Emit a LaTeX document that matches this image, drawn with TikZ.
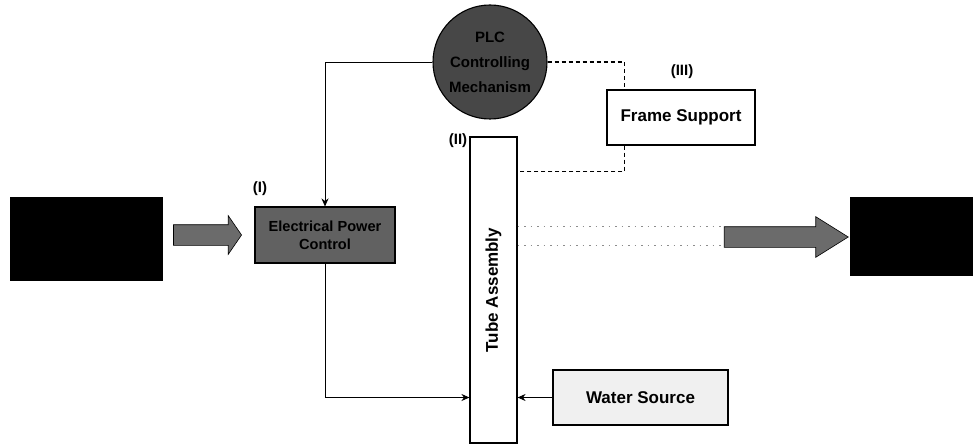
\documentclass[tikz,border=0pt]{standalone}
\usepackage{fontspec}
\setmainfont{Liberation Sans}
\usetikzlibrary{shapes.geometric, shapes.arrows, arrows.meta, positioning}

\begin{document}
\begin{tikzpicture}[
  x=1pt, y=-1pt,
  box/.style={rectangle, draw, line width=1.1pt, inner sep=2pt, align=center, font=\fontsize{17}{20}\selectfont\bfseries},
  blackbox/.style={rectangle, fill=black, draw=black},
  darkbox/.style={box, fill=black!62, font=\fontsize{14.6}{18}\selectfont\bfseries},
  lightbox/.style={box, fill=black!6},
  fat/.style={single arrow, draw=black, line width=0.6pt, fill=black!58, inner xsep=0pt, inner ysep=10pt},
  tag/.style={font=\fontsize{15}{18}\selectfont\bfseries, inner sep=0pt},
  arr/.style={-{Stealth[length=8pt,width=7pt]}, line width=0.9pt},
  dashln/.style={line width=1.4pt, dash pattern=on 4pt off 3pt},
  dotln/.style={black!45, line width=0.8pt, dash pattern=on 1.5pt off 5pt}
]
\useasboundingbox (0,0) rectangle (973,446);

% Entree / sortie
\node[blackbox, minimum width=152pt, minimum height=83pt] (src) at (86,238.5) {};
\node[blackbox, minimum width=123pt, minimum height=78pt] (sink) at (911.5,236) {};
\node[fat, minimum height=68pt, single arrow head extend=9pt, single arrow tip angle=111] (larrow) at (204,235) {};
\node[fat, minimum height=124pt, single arrow head extend=10pt, single arrow tip angle=64] (rarrow) at (778,237) {};

% Commande
\node[circle, draw, line width=1.1pt, fill=black!72, minimum size=114pt, inner sep=0pt, align=center, font=\fontsize{15}{25}\selectfont\bfseries] (plc) at (490,62) {PLC\\Controlling\\Mechanism};
\node[darkbox, minimum width=140pt, minimum height=56pt] (drive) at (325,235) {Electrical Power\\Control};
\node[tag] (lab1) at (260,189) {(I)};

% Tube
\node[box, fill=white, minimum width=47pt, minimum height=306pt,
  label={[rotate=90, font=\fontsize{17}{20}\selectfont\bfseries]center:Tube Assembly}] (tube) at (493.5,290) {};
\node[tag] (lab2) at (458,141) {(II)};

% Support et eau
\node[box, minimum width=148pt, minimum height=55pt] (frame) at (681,117.5) {Frame Support};
\node[tag] (lab3) at (682,72) {(III)};
\node[lightbox, minimum width=175pt, minimum height=55pt] (water) at (640.5,397.5) {Water Source};

% Liaisons
\draw[arr] (plc.west) -| (drive.north);
\draw[dashln] (plc.east) -| ([xshift=18pt]frame.north west);
\coordinate (fsin) at ([yshift=-35pt]tube.north east);
\draw[dashln] ([xshift=18pt]frame.south west) |- (fsin);
\coordinate (d1) at ([yshift=64pt]tube.east);
\coordinate (d2) at ([yshift=45pt]tube.east);
\draw[dotln] (d1) -- (d1 -| rarrow.west);
\draw[dotln] (d2) -- (d2 -| rarrow.west);
\draw[arr] (drive.south) |- (tube.west |- water.west);
\draw[arr] (water.west) -- (tube.east |- water.west);

\end{tikzpicture}
\end{document}
